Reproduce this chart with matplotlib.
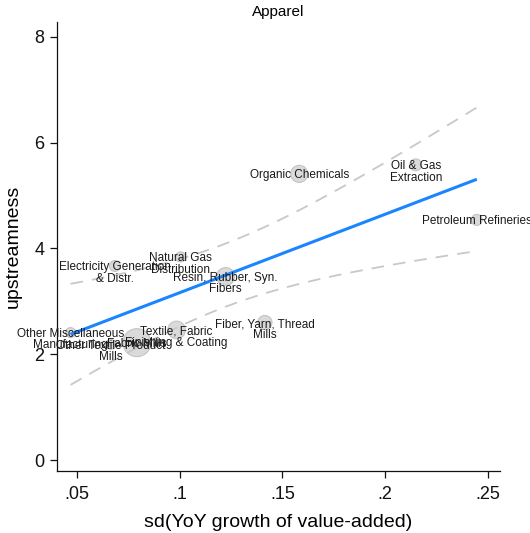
import numpy as np
import matplotlib
matplotlib.use("Agg")
import matplotlib.pyplot as plt
from matplotlib.ticker import FixedLocator, FuncFormatter

# Industry-level data for the Apparel panel
industries = [
    "Other Miscellaneous\nManufacturing",
    "Other Textile Product\nMills",
    "Electricity Generation\n& Distr.",
    "Fabric Mills",
    "Textile, Fabric\nFinishing & Coating",
    "Natural Gas\nDistribution",
    "Resin, Rubber, Syn.\nFibers",
    "Fiber, Yarn, Thread\nMills",
    "Organic Chemicals",
    "Oil & Gas\nExtraction",
    "Petroleum Refineries",
]
sd_growth = [0.0469, 0.0666, 0.0685, 0.0792, 0.0985, 0.1005, 0.1224, 0.1415, 0.1582, 0.2149, 0.2446]
upstreamness = [2.41, 2.19, 3.67, 2.22, 2.46, 3.84, 3.47, 2.60, 5.41, 5.58, 4.54]
weight = [1.0, 1.0, 1.2, 7.8, 3.1, 1.0, 3.2, 2.0, 2.9, 1.4, 1.2]

x_ticks = [0.05, 0.10, 0.15, 0.20, 0.25]
y_ticks = [0, 2, 4, 6, 8]

T_CRIT_95 = 2.262  # two-sided 95% t critical value, 9 degrees of freedom

plt.rcParams["font.family"] = ["Liberation Sans", "DejaVu Sans"]

x = np.asarray(sd_growth)
y = np.asarray(upstreamness)
w = np.asarray(weight)

# Linear fit with 95% confidence band for the mean prediction
n = len(x)
slope, intercept = np.polyfit(x, y, 1)
resid = y - (intercept + slope * x)
s = np.sqrt(np.sum(resid ** 2) / (n - 2))
sxx = np.sum((x - x.mean()) ** 2)
xf = np.linspace(x.min(), x.max(), 200)
yf = intercept + slope * xf
se = s * np.sqrt(1.0 / n + (xf - x.mean()) ** 2 / sxx)
lo = yf - T_CRIT_95 * se
hi = yf + T_CRIT_95 * se

fig = plt.figure(figsize=(5.30, 5.33), dpi=100)
ax = fig.add_axes([0.1075, 0.1169, 0.8359, 0.8418])

ax.scatter(x, y, s=w * 52, facecolor="#dadada", edgecolor="#c4c4c4",
           linewidth=0.8, zorder=2)
ax.plot(xf, hi, color="#c8c8c8", lw=1.3, dashes=(7, 5), zorder=3)
ax.plot(xf, lo, color="#c8c8c8", lw=1.3, dashes=(7, 5), zorder=3)
ax.plot(xf, yf, color="#1a85ff", lw=2.2, zorder=4, solid_capstyle="butt")

line_pt = 8.3
for name, xi, yi in zip(industries, x, y):
    nlines = name.count("\n") + 1
    ax.annotate(name, (xi, yi), xytext=(0, -(nlines - 1) / 2 * line_pt - 1),
                textcoords="offset points", ha="center", va="center",
                fontsize=8.5, color="#1a1a1a", linespacing=0.93,
                annotation_clip=False, zorder=5)

ax.set_xlim(0.0403, 0.2559)
ax.set_ylim(-0.2, 8.28)
ax.xaxis.set_major_locator(FixedLocator(x_ticks))
ax.yaxis.set_major_locator(FixedLocator(y_ticks))
ax.xaxis.set_major_formatter(FuncFormatter(lambda v, p: f"{v:g}".lstrip("0")))
ax.yaxis.set_major_formatter(FuncFormatter(lambda v, p: f"{v:g}"))

for side in ("top", "right"):
    ax.spines[side].set_visible(False)
for side in ("left", "bottom"):
    ax.spines[side].set_linewidth(0.9)
    ax.spines[side].set_color("#111111")

ax.tick_params(axis="both", direction="out", length=5, width=0.9,
               labelsize=13, colors="#111111", pad=4)
ax.tick_params(axis="x", pad=6)

ax.set_xlabel("sd(YoY growth of value-added)", fontsize=14, labelpad=8)
ax.set_ylabel("upstreamness", fontsize=14, labelpad=9)
ax.set_title("Apparel", fontsize=11, pad=4)

fig.savefig("out.png", dpi=100)
